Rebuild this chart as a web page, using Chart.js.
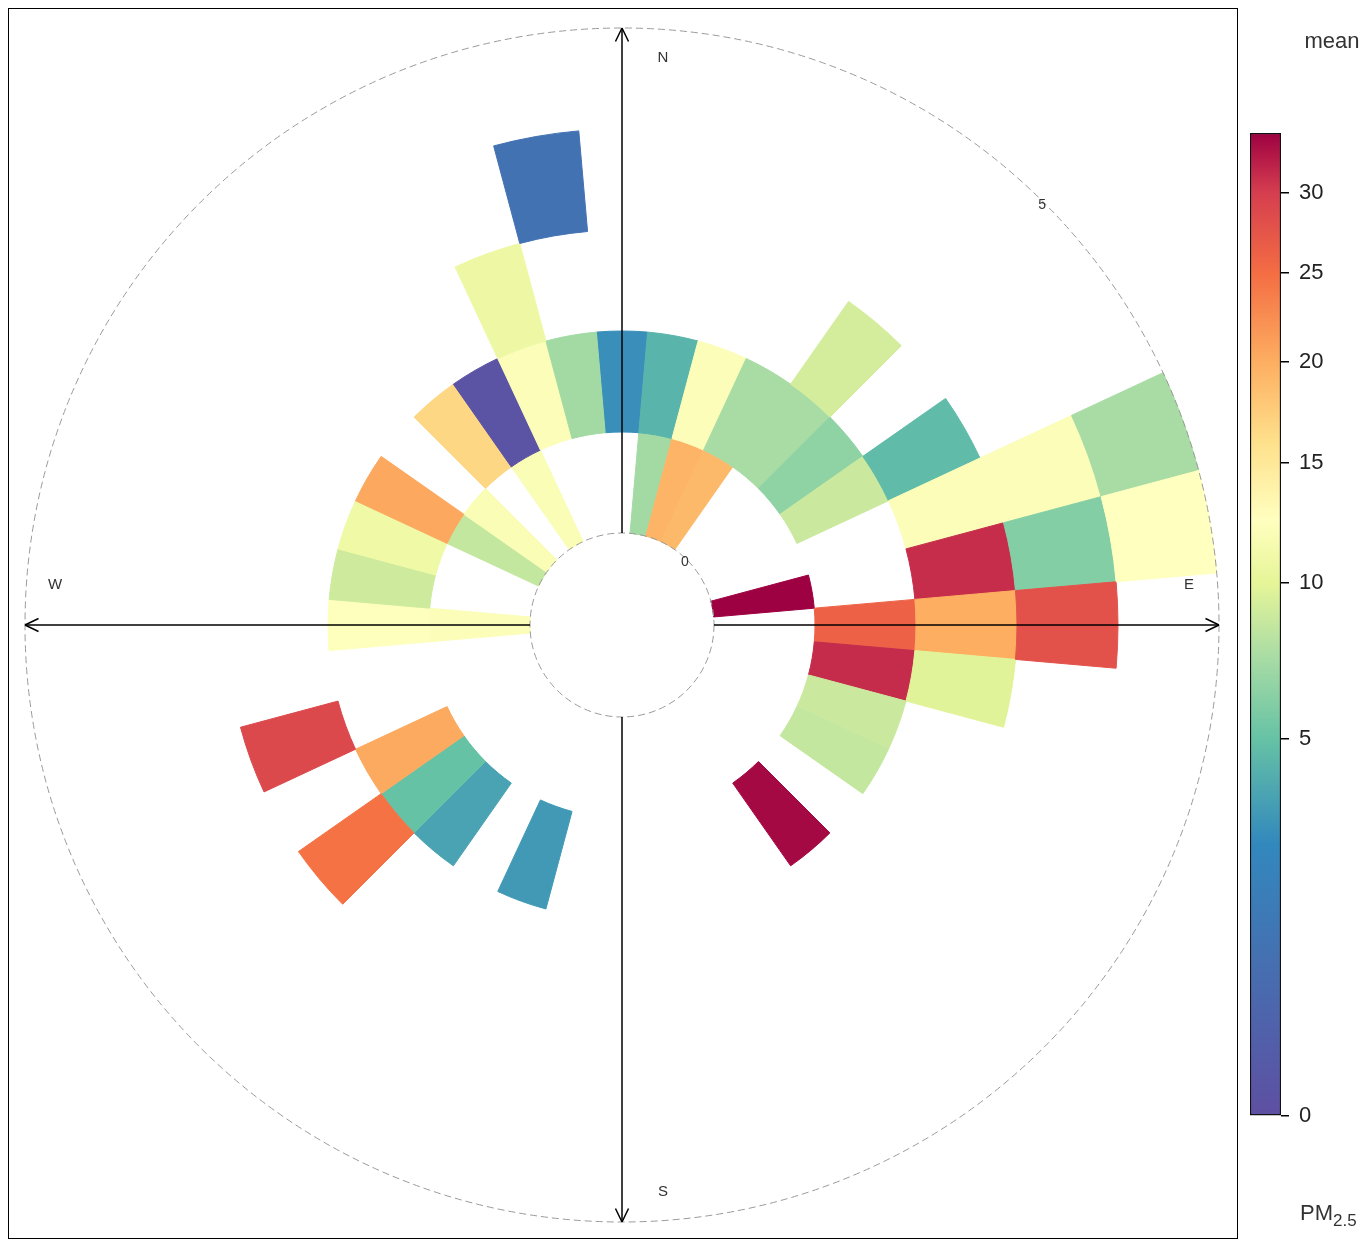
<!DOCTYPE html>
<html>
<head>
<meta charset="utf-8">
<title>polar frequency - mean PM2.5</title>
<script src="https://cdn.jsdelivr.net/npm/chart.js@4.4.1/dist/chart.umd.min.js"></script>
<style>
  body { margin: 0; background: #fff; width: 1367px; height: 1240px; position: relative; overflow: hidden; }
  #rose { position: absolute; left: 8px; top: 8px; }
  #key { position: absolute; left: 1240px; top: 0; }
  #frame { position: absolute; left: 8px; top: 8px; width: 1230px; height: 1231px;
           border: 1px solid #000; box-sizing: border-box; pointer-events: none; }
</style>
</head>
<body>
<canvas id="rose" width="1228" height="1234"></canvas>
<canvas id="key" width="127" height="1240"></canvas>
<div id="frame"></div>

<script>
/* ===== data (mean PM2.5 by wind direction and wind speed bin) ===== */
const directions = [0, 10, 20, 30, 40, 50, 60, 70, 80, 90,
  100, 110, 120, 130, 140, 150, 160, 170, 180, 190,
  200, 210, 220, 230, 240, 250, 260, 270, 280, 290,
  300, 310, 320, 330, 340, 350];
const speedBins = ["0-1", "1-2", "2-3", "3-4", "4-5"];
const speedTicks = [0, 5];
const compass = ["N", "E", "S", "W"];

// ws 0-1
const meanBin0 = [null, 7.2, 19.5, 19.1, null, null, null, null, 34.0, null,
  null, null, null, null, null, null, null, null, null, null,
  null, null, null, null, null, null, null, 12.1, null, null,
  8.5, 11.9, null, 11.9, null, null];
// ws 1-2
const meanBin1 = [2.9, 4.4, 12.1, 7.4, 7.4, 6.5, 8.8, null, null, 26.2,
  31.2, 8.8, 8.5, null, 33.5, null, null, null, null, null,
  3.3, null, 3.7, 5.0, 20.3, null, null, 12.4, 9.0, 10.9,
  20.4, null, 16.7, 0.2, 12.1, 7.2];
// ws 2-3
const meanBin2 = [null, null, null, null, 9.2, null, 4.7, 12.1, 31.1, 20.0,
  9.8, null, null, null, null, null, null, null, null, null,
  null, null, null, 24.6, null, 28.8, null, null, null, null,
  null, null, null, null, 10.8, null];
// ws 3-4
const meanBin3 = [null, null, null, null, null, null, null, 12.1, 6.1, 27.9,
  null, null, null, null, null, null, null, null, null, null,
  null, null, null, null, null, null, null, null, null, null,
  null, null, null, null, null, 1.6];
// ws 4-5
const meanBin4 = [null, null, null, null, null, null, null, 7.4, 12.5, null,
  null, null, null, null, null, null, null, null, null, null,
  null, null, null, null, null, null, null, null, null, null,
  null, null, null, null, null, null];

const keyTicks = [0, 5, 10, 15, 20, 25, 30];
const keyMax = 34;

// Spectral palette and the PM2.5 value each colour sits at
const spectral = ["#5E4FA2", "#3288BD", "#66C2A5", "#ABDDA4", "#E6F598", "#FFFFBF",
  "#FEE08B", "#FDAE61", "#F46D43", "#D53E4F", "#9E0142"];
const spectralAt = [0, 2.6, 5, 7.5, 10, 12.5, 16, 20, 25, 30, 34];

const FONT = '"Liberation Sans", Arial, sans-serif';

// ========== COLOUR SCALE ==========
function hexToRgb(h) {
  const n = parseInt(h.slice(1), 16);
  return [(n >> 16) & 255, (n >> 8) & 255, n & 255];
}

function colourFor(v) {
  if (v === null) return "rgba(0,0,0,0)";
  let i = 0;
  while (i < spectralAt.length - 2 && v > spectralAt[i + 1]) i++;
  const f = Math.max(0, Math.min(1, (v - spectralAt[i]) / (spectralAt[i + 1] - spectralAt[i])));
  const a = hexToRgb(spectral[i]), b = hexToRgb(spectral[i + 1]);
  const c = a.map((x, k) => Math.round(x + (b[k] - x) * f));
  return `rgb(${c[0]},${c[1]},${c[2]})`;
}

// ========== ROSE DECORATION ==========
const roseDecor = {
  id: "roseDecor",
  afterDatasetsDraw(chart) {
    const ctx = chart.ctx;
    const outer = chart.getDatasetMeta(0).data[0];
    const inner = chart.getDatasetMeta(speedBins.length - 1).data[0];
    const cx = outer.x, cy = outer.y;
    const R = outer.outerRadius, r0 = inner.innerRadius;
    const maxSpeed = speedTicks[speedTicks.length - 1];
    const rad = (ws) => r0 + ((R - r0) * ws) / maxSpeed;

    ctx.save();
    // dashed speed circles
    ctx.strokeStyle = "#9a9a9a";
    ctx.lineWidth = 1;
    ctx.setLineDash([7, 4]);
    speedTicks.forEach((ws) => {
      ctx.beginPath();
      ctx.arc(cx, cy, rad(ws), 0, Math.PI * 2);
      ctx.stroke();
    });
    ctx.setLineDash([]);

    // speed labels along 45 deg
    ctx.fillStyle = "#333";
    ctx.font = `14px ${FONT}`;
    ctx.textAlign = "center";
    ctx.textBaseline = "middle";
    speedTicks.forEach((ws) => {
      const r = rad(ws) - 3;
      ctx.fillText(String(ws), cx + r * Math.SQRT1_2, cy - r * Math.SQRT1_2);
    });

    // axes with arrows
    ctx.strokeStyle = "#000";
    ctx.lineWidth = 1.5;
    const dirs = [[0, -1], [1, 0], [0, 1], [-1, 0]];
    dirs.forEach(([dx, dy], k) => {
      const tx = cx + dx * R, ty = cy + dy * R;
      ctx.beginPath();
      ctx.moveTo(cx + dx * r0, cy + dy * r0);
      ctx.lineTo(tx, ty);
      ctx.stroke();
      const ang = Math.atan2(dy, dx);
      ctx.beginPath();
      [-0.45, 0.45].forEach((da) => {
        ctx.moveTo(tx, ty);
        ctx.lineTo(tx - 15 * Math.cos(ang + da), ty - 15 * Math.sin(ang + da));
      });
      ctx.stroke();

      // compass letter: inside the circle, offset to one side of the axis
      const along = R - 30;
      const px = dx !== 0 ? cx + dx * along : cx + 41;
      const py = dy !== 0 ? cy + dy * along : cy - 40;
      ctx.fillStyle = "#333";
      ctx.font = `15px ${FONT}`;
      ctx.fillText(compass[k], px, py);
    });
    ctx.restore();
  },
};

const rings = [meanBin4, meanBin3, meanBin2, meanBin1, meanBin0];

new Chart(document.getElementById("rose"), {
  type: "doughnut",
  data: {
    labels: directions.map((d) => d + "°"),
    datasets: rings.map((vals, i) => ({
      label: speedBins[speedBins.length - 1 - i],
      data: directions.map(() => 1),
      backgroundColor: vals.map(colourFor),
      borderColor: vals.map(colourFor),
      borderWidth: 1,
    })),
  },
  options: {
    responsive: false,
    animation: false,
    events: [],
    rotation: -5,
    radius: 597,
    cutout: (92 / 597) * 100 + "%",
    layout: { padding: 0 },
    plugins: { legend: { display: false }, tooltip: { enabled: false } },
  },
  plugins: [roseDecor],
});

// ========== COLOUR KEY ==========
const keyText = {
  id: "keyText",
  afterDraw(chart) {
    const ctx = chart.ctx;
    ctx.save();
    ctx.fillStyle = "#333";
    ctx.font = `22px ${FONT}`;
    ctx.textAlign = "center";
    ctx.textBaseline = "alphabetic";
    ctx.fillText("mean", 92, 48);
    ctx.textAlign = "left";
    ctx.fillText("PM", 60, 1220);
    const w = ctx.measureText("PM").width;
    ctx.font = `17px ${FONT}`;
    ctx.fillText("2.5", 60 + w, 1226);
    ctx.restore();
  },
};

function keyGradient(chart) {
  const y = chart.scales.y;
  const area = chart.chartArea;
  if (!y || !area) return spectral[0];
  const y0 = y.getPixelForValue(0);
  const y1 = y.getPixelForValue(Math.sqrt(keyMax));
  if (!Number.isFinite(y0) || !Number.isFinite(y1) || y0 === y1) return spectral[0];
  const g = chart.ctx.createLinearGradient(0, y0, 0, y1);
  spectral.forEach((c, i) => g.addColorStop(Math.sqrt(spectralAt[i] / keyMax), c));
  return g;
}

new Chart(document.getElementById("key"), {
  type: "bar",
  data: {
    labels: ["mean"],
    datasets: [{
      data: [Math.sqrt(keyMax)],
      backgroundColor: (c) => keyGradient(c.chart),
      borderColor: "#111",
      borderWidth: 1.5,
      borderSkipped: false,
      barPercentage: 1,
      categoryPercentage: 1,
    }],
  },
  options: {
    responsive: false,
    animation: false,
    events: [],
    layout: { padding: { left: 10, right: 36, top: 133, bottom: 124 } },
    plugins: { legend: { display: false }, tooltip: { enabled: false } },
    scales: {
      x: { display: false },
      y: {
        position: "right",
        min: 0,
        max: Math.sqrt(keyMax),
        border: { display: false },
        grid: { drawOnChartArea: false, color: "#000", tickLength: 8, lineWidth: 1.5 },
        afterBuildTicks: (axis) => {
          axis.ticks = keyTicks.map((v) => ({ value: Math.sqrt(v) }));
        },
        afterFit: (axis) => { axis.width = 50; },
        ticks: {
          color: "#222",
          font: { size: 22, family: FONT },
          padding: 10,
          callback: (v) => Math.round(v * v),
        },
      },
    },
  },
  plugins: [keyText],
});
</script>
</body>
</html>
